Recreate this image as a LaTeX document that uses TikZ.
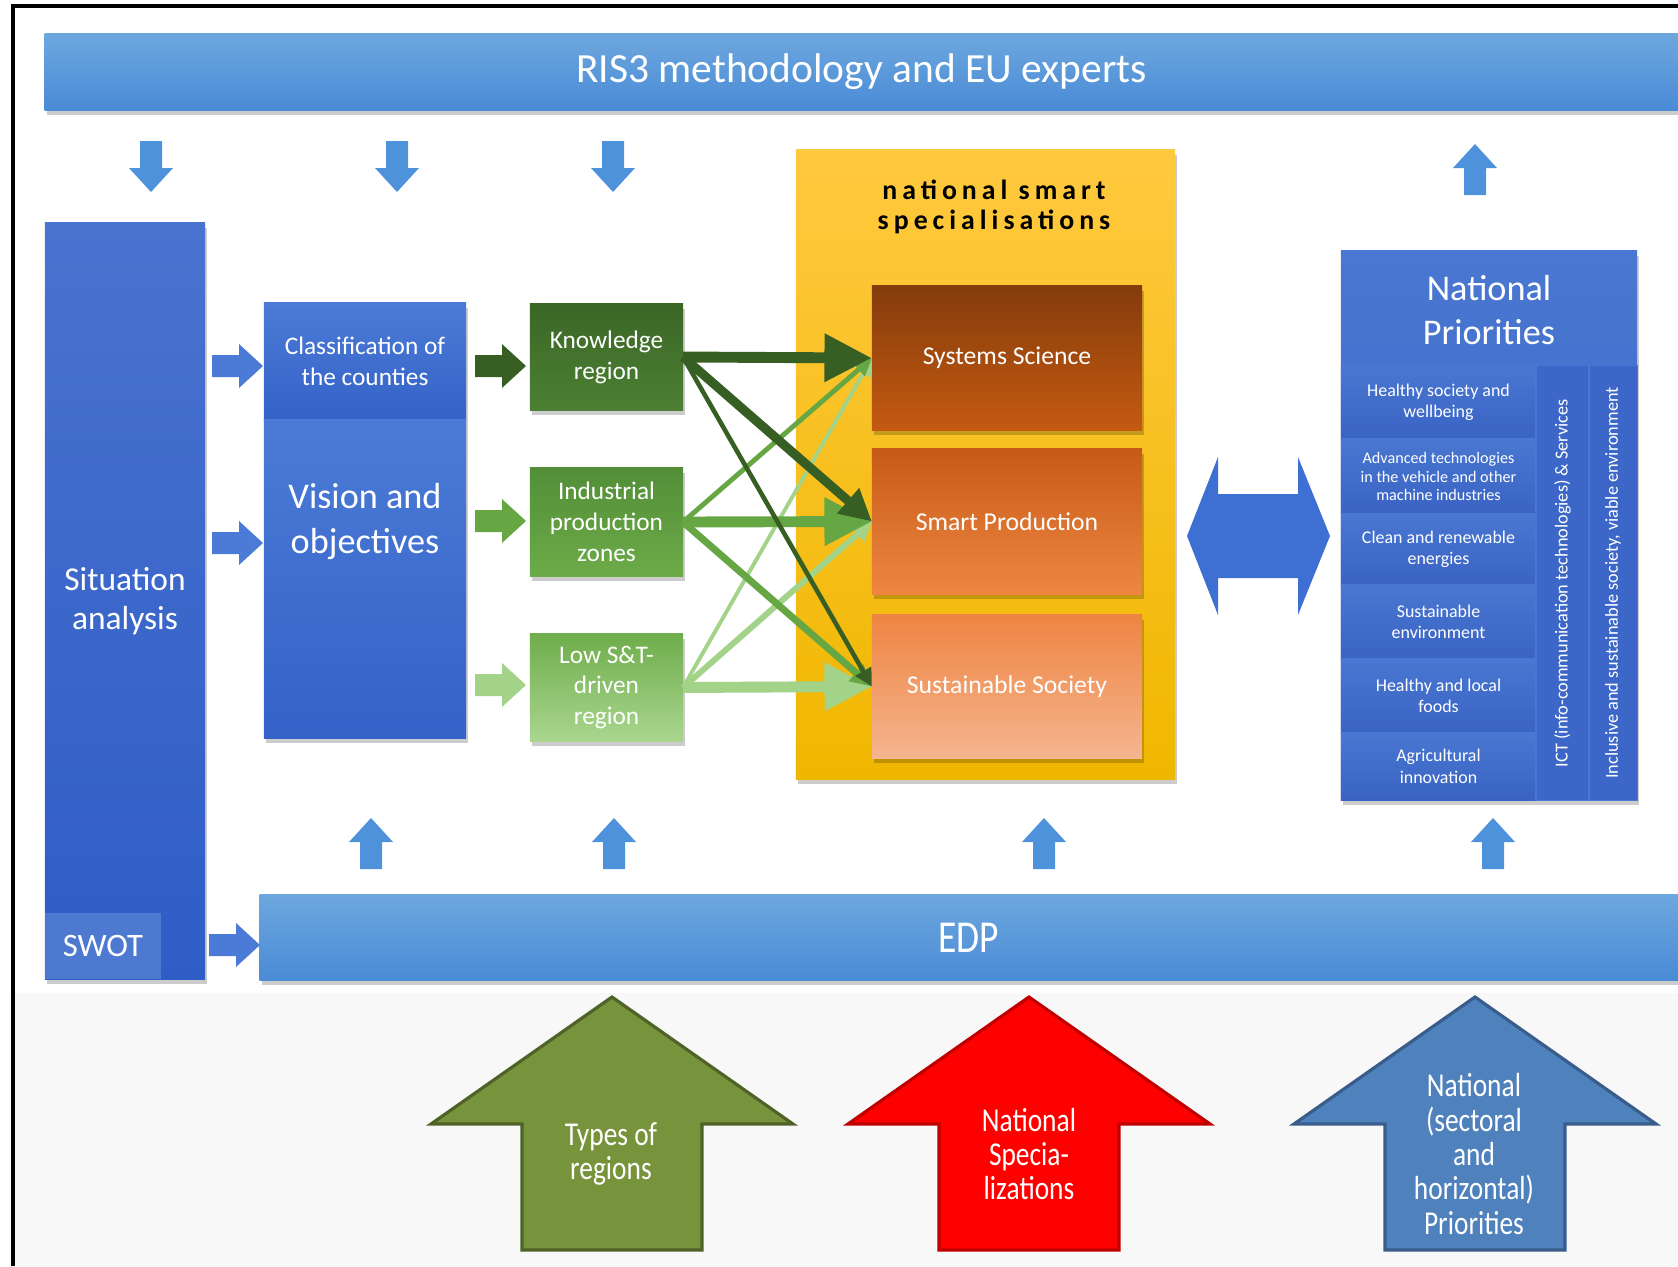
\documentclass[tikz,border=0pt]{standalone}
\usepackage{fontspec}
\setmainfont{Carlito}
\newfontfamily\narrowfont[FakeStretch=0.82]{Carlito}
\usepackage{xcolor}
\usepackage{tikz}
\usetikzlibrary{arrows.meta, shadows}
\definecolor{custom_bar_top}{HTML}{6DA7DE}
\definecolor{custom_bar_bot}{HTML}{4A8BD6}
\definecolor{custom_arrow}{HTML}{4D92DA}
\definecolor{custom_sit_top}{HTML}{4A72CF}
\definecolor{custom_sit_bot}{HTML}{2F5DC6}
\definecolor{custom_swot}{HTML}{5680D4}
\definecolor{custom_box_top}{HTML}{4B7BD6}
\definecolor{custom_box_bot}{HTML}{3462C8}
\definecolor{custom_np_top}{HTML}{4977D1}
\definecolor{custom_np_bot}{HTML}{3A63C4}
\definecolor{custom_np_col}{HTML}{3C66C7}
\definecolor{custom_kn_top}{HTML}{3B6726}
\definecolor{custom_kn_bot}{HTML}{4C8034}
\definecolor{custom_in_top}{HTML}{528E37}
\definecolor{custom_in_bot}{HTML}{6DAB49}
\definecolor{custom_lo_top}{HTML}{6FAD4C}
\definecolor{custom_lo_bot}{HTML}{A9D68F}
\definecolor{custom_gdark}{HTML}{375F23}
\definecolor{custom_gmid}{HTML}{67A743}
\definecolor{custom_glight}{HTML}{A2D389}
\definecolor{custom_yel_top}{HTML}{FFC93F}
\definecolor{custom_yel_bot}{HTML}{F0B700}
\definecolor{custom_or1_top}{HTML}{843C0C}
\definecolor{custom_or1_bot}{HTML}{C55A11}
\definecolor{custom_or2_top}{HTML}{C65B17}
\definecolor{custom_or2_bot}{HTML}{EE8642}
\definecolor{custom_or3_top}{HTML}{EE8442}
\definecolor{custom_or3_bot}{HTML}{F5B58F}
\definecolor{custom_dbl}{HTML}{3E6FD2}
\definecolor{custom_ty_fill}{HTML}{77933C}
\definecolor{custom_ty_line}{HTML}{4F6228}
\definecolor{custom_red_fill}{HTML}{FF0000}
\definecolor{custom_red_line}{HTML}{C00000}
\definecolor{custom_blue_fill}{HTML}{4F81BD}
\definecolor{custom_blue_line}{HTML}{385D8A}
\definecolor{custom_bg}{HTML}{F8F8F8}

\begin{document}
\begin{tikzpicture}[x=0.01cm, y=-0.01cm,
  every node/.style={inner sep=0pt, outer sep=0pt, align=center, text=white},
  boxshadow/.style={drop shadow={shadow xshift=0.2mm, shadow yshift=-0.5mm, opacity=0.2, fill=black}},
  bar/.style={top color=custom_bar_top, bottom color=custom_bar_bot, boxshadow},
  bluebox/.style={top color=custom_box_top, bottom color=custom_box_bot, boxshadow},
  greenbox/.style={boxshadow, minimum width=1.53cm, font=\fontsize{7.2}{8.8}\selectfont},
  orangebox/.style={boxshadow, minimum width=2.70cm, font=\fontsize{7.3}{9}\selectfont},
  prio/.style={top color=custom_np_top, bottom color=custom_np_bot, minimum width=1.95cm, font=\fontsize{5.1}{6.1}\selectfont},
  npcol/.style={fill=custom_np_col, draw=custom_np_top, line width=0.3pt, rotate=90, minimum width=4.34cm, font=\fontsize{5.2}{6}\selectfont},
  bigtext/.style={font=\narrowfont\fontsize{9.5}{9.8}\selectfont},
  pics/blkarrow/.style={code={
    \path[pic actions] (0,-11) -- (27,-11) -- (27,-22) -- (51,0) -- (27,22) -- (27,11) -- (0,11) -- cycle;
  }},
  pics/bigup/.style={code={
    \path[pic actions] (0,0) -- (181,127) -- (90,127) -- (90,253) -- (-90,253) -- (-90,127) -- (-181,127) -- cycle;
  }}
]

  \useasboundingbox (0,0) rectangle (1678,1266);
  \fill[custom_bg] (13,993) rectangle (1678,1266);
  \draw[line width=1.1pt] (13,1266) -- (13,6) -- (1678,6);

  \node[bar, minimum width=16.33cm, minimum height=0.76cm, font=\fontsize{11.8}{14}\selectfont] (ris) at (861.5,72) {RIS3 methodology and EU experts};
  \node[bar, minimum width=14.18cm, minimum height=0.85cm, font=\narrowfont\fontsize{13}{15}\selectfont] (edp) at (969,937.5) {EDP};

  \pic[fill=custom_arrow, rotate=-90] at (151,141) {blkarrow};
  \pic[fill=custom_arrow, rotate=-90] at (397,141) {blkarrow};
  \pic[fill=custom_arrow, rotate=-90] at (613,141) {blkarrow};
  \pic[fill=custom_arrow, rotate=90] at (1475,195) {blkarrow};

  \pic[fill=custom_arrow, rotate=90] at (371,869) {blkarrow};
  \pic[fill=custom_arrow, rotate=90] at (614,869) {blkarrow};
  \pic[fill=custom_arrow, rotate=90] at (1044,869) {blkarrow};
  \pic[fill=custom_arrow, rotate=90] at (1493,869) {blkarrow};

  \node[top color=custom_sit_top, bottom color=custom_sit_bot, boxshadow, minimum width=1.60cm, minimum height=7.56cm, font=\fontsize{9.5}{11}\selectfont] (sit) at (125,601) {Situation\\analysis};
  \node[fill=custom_swot, fill opacity=0.8, text opacity=1, minimum width=1.16cm, minimum height=0.66cm, font=\fontsize{9.3}{11}\selectfont] (swot) at (103,946) {SWOT};

  \pic[fill=custom_box_top, rotate=0] at (212,366) {blkarrow};
  \pic[fill=custom_box_top, rotate=0] at (212,543) {blkarrow};
  \pic[fill=custom_box_top, rotate=0] at (209,945) {blkarrow};

  \node[bluebox, minimum width=2.02cm, minimum height=1.17cm, font=\fontsize{7.2}{8.8}\selectfont] (cls) at (365,361.5) {Classification of\\the counties};
  \node[bluebox, minimum width=2.02cm, minimum height=3.18cm] (vis) at (365,579) {};
  \node[font=\fontsize{10.3}{12.8}\selectfont] (vistxt) at (365,522) {Vision and\\objectives};

  \pic[fill=custom_gdark, rotate=0] at (475,366) {blkarrow};
  \pic[fill=custom_gmid, rotate=0] at (475,521) {blkarrow};
  \pic[fill=custom_glight, rotate=0] at (475,685) {blkarrow};

  \node[greenbox, top color=custom_kn_top, bottom color=custom_kn_bot, minimum height=1.06cm] (know) at (606.5,357) {Knowledge\\region};
  \node[greenbox, top color=custom_in_top, bottom color=custom_in_bot, minimum height=1.08cm] (indu) at (606.5,522) {Industrial\\production\\zones};
  \node[greenbox, top color=custom_lo_top, bottom color=custom_lo_bot, minimum height=1.07cm] (lowst) at (606.5,687.5) {Low S\&T-\\driven\\region};

  \node[top color=custom_yel_top, bottom color=custom_yel_bot, boxshadow, minimum width=3.79cm, minimum height=6.29cm] (nss) at (985.5,464.5) {};
  \node[text=black, font=\fontsize{7.9}{8.5}\selectfont\bfseries\addfontfeatures{LetterSpace=18}] (nsstitle) at (994,207) {national smart\\specialisations};

  \node[orangebox, top color=custom_or1_top, bottom color=custom_or1_bot, minimum height=1.44cm] (syssci) at (1007,358) {Systems Science};
  \node[orangebox, top color=custom_or2_top, bottom color=custom_or2_bot, minimum height=1.45cm] (smartp) at (1007,521.5) {Smart Production};
  \node[orangebox, top color=custom_or3_top, bottom color=custom_or3_bot, minimum height=1.43cm] (sustsoc) at (1007,686.5) {Sustainable Society};

  \draw[custom_glight, line width=1.1pt, -{Triangle[length=5pt,width=5pt]}] (lowst.east) -- (syssci.west);
  \draw[custom_glight, line width=1.7pt, -{Triangle[length=5.5pt,width=5.5pt]}] (lowst.east) -- (smartp.west);
  \draw[custom_glight, line width=3.1pt, -{Triangle[length=13.5pt,width=13pt]}] (lowst.east) -- (sustsoc.west);
  \draw[custom_gmid, line width=1.4pt, -{Triangle[length=5pt,width=5pt]}] (indu.east) -- (syssci.west);
  \draw[custom_gmid, line width=2pt, -{Triangle[length=6pt,width=6pt]}] (indu.east) -- (sustsoc.west);
  \draw[custom_gmid, line width=3.1pt, -{Triangle[length=13.5pt,width=13pt]}] (indu.east) -- (smartp.west);
  \draw[custom_gdark, line width=1.3pt, -{Triangle[length=5pt,width=5pt]}] (know.east) -- (sustsoc.west);
  \draw[custom_gdark, line width=2.6pt, -{Triangle[length=9pt,width=9pt]}] (know.east) -- (smartp.west);
  \draw[custom_gdark, line width=3.1pt, -{Triangle[length=13.5pt,width=13pt]}] (know.east) -- (syssci.west);

  \fill[custom_dbl] (1187,536) -- (1218,457) -- (1218,494) -- (1298,494) -- (1298,457) -- (1330,536)
    -- (1298,615) -- (1298,578) -- (1218,578) -- (1218,615) -- cycle;

  \node[bluebox, top color=custom_np_top, bottom color=custom_np_bot, minimum width=2.96cm, minimum height=5.49cm] (natprio) at (1489,525.5) {};
  \node[font=\fontsize{10.3}{12.5}\selectfont] (nptitle) at (1489,310) {National\\Priorities};
  \node[prio, minimum height=0.73cm] (prio1) at (1438.5,402.5) {Healthy society and\\wellbeing};
  \node[prio, minimum height=0.75cm, font=\fontsize{4.6}{5.3}\selectfont] (prio2) at (1438.5,476.5) {Advanced technologies\\in the vehicle and other\\machine industries};
  \node[prio, minimum height=0.71cm] (prio3) at (1438.5,549.5) {Clean and renewable\\energies};
  \node[prio, minimum height=0.74cm] (prio4) at (1438.5,622) {Sustainable\\environment};
  \node[prio, minimum height=0.74cm] (prio5) at (1438.5,696) {Healthy and local\\foods};
  \node[prio, minimum height=0.67cm] (prio6) at (1438.5,766.5) {Agricultural\\innovation};
  \node[npcol, minimum height=0.53cm] (ict) at (1562.5,583) {ICT (info-communication technologies) \& Services};
  \node[npcol, minimum height=0.48cm] (incl) at (1613,583) {Inclusive and sustainable society, viable environment};

  \pic[fill=custom_ty_fill, draw=custom_ty_line, line width=0.9pt] at (612,997) {bigup};
  \node[bigtext] (tyreg) at (611,1154) {Types of\\regions};
  \pic[fill=custom_red_fill, draw=custom_red_line, line width=0.9pt] at (1029,997) {bigup};
  \node[bigtext] (nspec) at (1029,1154) {National\\Specia-\\lizations};
  \pic[fill=custom_blue_fill, draw=custom_blue_line, line width=0.9pt] at (1475,997) {bigup};
  \node[bigtext] (nsect) at (1474,1154) {National\\(sectoral\\and\\horizontal)\\Priorities};

\end{tikzpicture}
\end{document}
